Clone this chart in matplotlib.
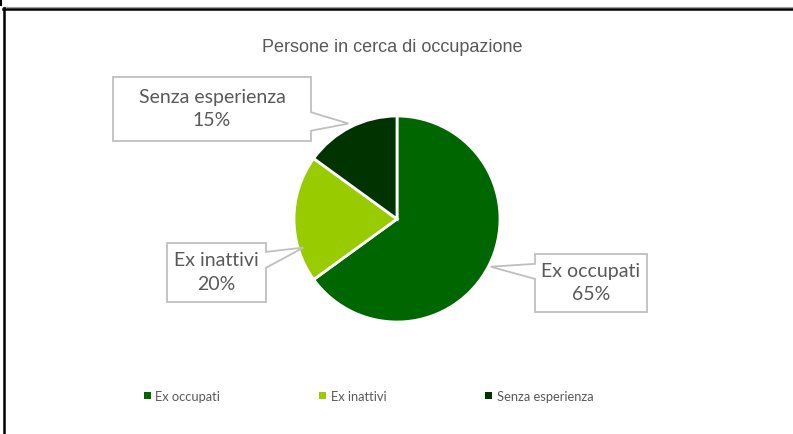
import numpy as np
import matplotlib.pyplot as plt
from matplotlib.lines import Line2D
from matplotlib.patches import Polygon, Patch

# dati
categorie = ['Ex occupati', 'Ex inattivi', 'Senza esperienza']
percentuali = [65, 20, 15]
colori = ['#006600', '#99CC00', '#003300']

titolo = 'Persone in cerca di occupazione'
grigio = '#595959'
font_etichette = ['Lato', 'DejaVu Sans']

W, H = 793, 435
fig = plt.figure(figsize=(W / 100, H / 100), dpi=100)
ax = fig.add_axes([0, 0, 1, 1])

# torta in coordinate pixel (y verso l'alto)
cx, cy, R = 397, H - 220, 103
wedges, _ = ax.pie(percentuali, colors=colori, startangle=90, counterclock=False,
                   center=(cx, cy), radius=R,
                   wedgeprops=dict(edgecolor='white', linewidth=2))
ax.set_xlim(0, W)
ax.set_ylim(0, H)
ax.set_aspect('auto')
ax.axis('off')

# fumetti: riquadro (x0, x1, y_alto, y_basso), lato del puntatore, base, punta
fumetti = {
    'Ex occupati': dict(box=(535, 647, 255, 313), lato='left', base=(0.17, 0.43), punta=(1.02, 0)),
    'Ex inattivi': dict(box=(167, 266, 244, 303), lato='right', base=(0.15, 0.42), punta=(0.95, 17)),
    'Senza esperienza': dict(box=(113, 311, 78, 142), lato='right', base=(0.55, 0.84), punta=(1.04, 0)),
}

for w, cat, p in zip(wedges, categorie, percentuali):
    f = fumetti[cat]
    x0, x1, yt, yb = f['box']
    yt, yb = H - yt, H - yb
    h = yt - yb
    b0 = yt - f['base'][0] * h
    b1 = yt - f['base'][1] * h
    ang = np.deg2rad((w.theta1 + w.theta2) / 2 + f['punta'][1])
    tip = (cx + f['punta'][0] * R * np.cos(ang), cy + f['punta'][0] * R * np.sin(ang))
    if f['lato'] == 'right':
        verts = [(x0, yt), (x1, yt), (x1, b0), tip, (x1, b1), (x1, yb), (x0, yb)]
    else:
        verts = [(x0, yt), (x1, yt), (x1, yb), (x0, yb), (x0, b1), tip, (x0, b0)]
    ax.add_patch(Polygon(verts, closed=True, facecolor='white', edgecolor='#BFBFBF',
                         linewidth=1.3, zorder=3))
    ax.text((x0 + x1) / 2, (yt + yb) / 2 + 1, f'{cat}\n{p}%', ha='center', va='center',
            color=grigio, fontsize=14, family=font_etichette, linespacing=1.45, zorder=4)

fig.text(392 / W, 1 - 47 / H, titolo, ha='center', va='center', color=grigio,
         fontsize=13, family=['Liberation Sans Narrow', 'Liberation Sans'])

handles = [Patch(facecolor=c, edgecolor='none') for c in colori]
fig.legend(handles, categorie, loc='center left', bbox_to_anchor=(132 / W, 1 - 397 / H),
           ncol=3, frameon=False, handlelength=0.55, handleheight=0.55,
           handletextpad=0.35, columnspacing=7.65, labelcolor=grigio,
           prop=dict(family=font_etichette, size=9.3))

# bordo del riquadro
def linea(xs, ys, **kw):
    fig.add_artist(Line2D([x / W for x in xs], [1 - y / H for y in ys], **kw))

linea([3, W], [8, 8], color='#A0A0A0', linewidth=0.8)
linea([3, W], [10, 10], color='black', linewidth=1.8)
linea([4, 4], [9, H], color='black', linewidth=1.8)
linea([1, 1], [0, 6], color='black', linewidth=1.5)

fig.savefig('out.png', dpi=100, facecolor='white')
